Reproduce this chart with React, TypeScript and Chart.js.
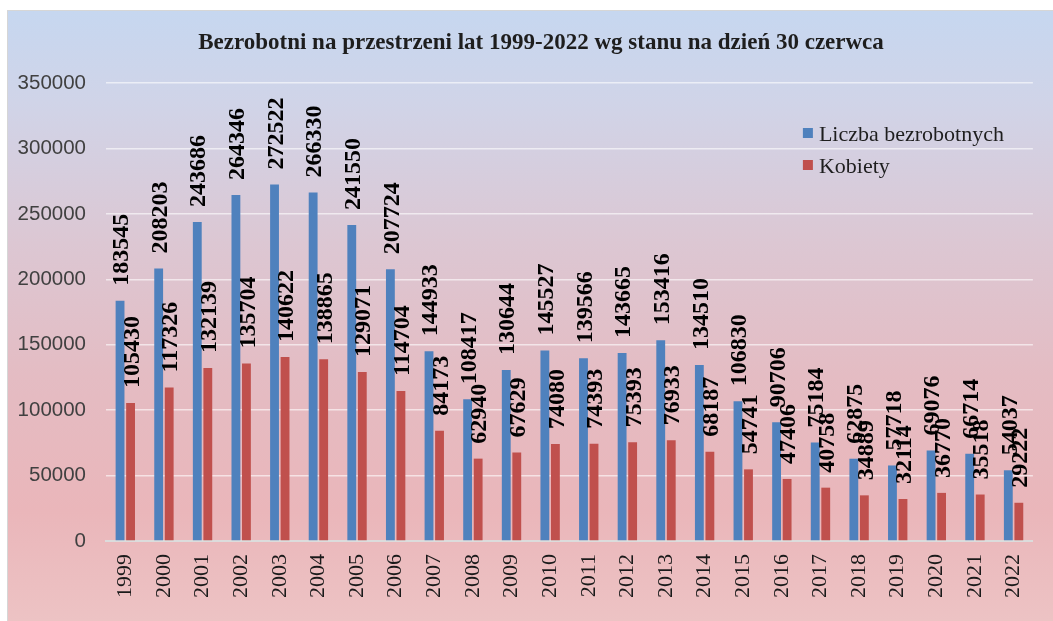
import React, { useEffect, useRef } from "react";
import { Chart, registerables } from "chart.js";

Chart.register(...registerables);

const TITLE = "Bezrobotni na przestrzeni lat 1999-2022 wg stanu na dzień 30 czerwca";
const YEARS = [
  "1999", "2000", "2001", "2002", "2003", "2004", "2005", "2006", "2007", "2008", "2009", "2010",
  "2011", "2012", "2013", "2014", "2015", "2016", "2017", "2018", "2019", "2020", "2021", "2022",
];
const TOTAL = [
  183545, 208203, 243686, 264346, 272522, 266330, 241550, 207724, 144933, 108417, 130644, 145527,
  139566, 143665, 153416, 134510, 106830, 90706, 75184, 62875, 57718, 69076, 66714, 54037,
];
const WOMEN = [
  105430, 117326, 132139, 135704, 140622, 138865, 129071, 114704, 84173, 62940, 67629, 74080,
  74393, 75393, 76933, 68187, 54741, 47406, 40758, 34889, 32114, 36770, 35518, 29222,
];
const SERIES_NAMES = ["Liczba bezrobotnych", "Kobiety"];
const SERIES_COLORS = ["#4f81bd", "#c0504d"];
const Y_MIN = 0;
const Y_MAX = 350000;
const Y_STEP = 50000;

const backgroundPlugin = {
  id: "bgGradient",
  beforeDraw(chart: any) {
    const { ctx, width, height } = chart;
    const g = ctx.createLinearGradient(0, 0, 0, height);
    g.addColorStop(0, "#c6d7f0");
    g.addColorStop(0.15, "#d0d4e8");
    g.addColorStop(0.38, "#dcc7d3");
    g.addColorStop(0.6, "#e4bcc3");
    g.addColorStop(0.82, "#eab6ba");
    g.addColorStop(1, "#edc3c4");
    ctx.save();
    ctx.fillStyle = g;
    ctx.fillRect(0, 0, width, height);
    ctx.strokeStyle = "#d6d6d6";
    ctx.lineWidth = 1;
    ctx.beginPath();
    ctx.moveTo(0.5, height);
    ctx.lineTo(0.5, 0.5);
    ctx.lineTo(width, 0.5);
    ctx.stroke();
    ctx.restore();
  },
};

const titleLegendPlugin = {
  id: "titleLegend",
  afterDraw(chart: any) {
    const { ctx } = chart;
    ctx.save();
    ctx.fillStyle = "#1e1e1e";
    ctx.font = "bold 23px 'Liberation Serif'";
    ctx.textAlign = "center";
    ctx.textBaseline = "alphabetic";
    ctx.fillText(TITLE, 534, 39);

    const lx = chart.chartArea.right - 230;
    const rows = [118, 150];
    ctx.font = "22px 'Liberation Serif'";
    ctx.textAlign = "left";
    SERIES_NAMES.forEach((name, i) => {
      ctx.fillStyle = SERIES_COLORS[i];
      ctx.fillRect(lx, rows[i], 10, 10);
      ctx.fillStyle = "#1e1e1e";
      ctx.fillText(name, lx + 16, rows[i] + 12.5);
    });
    ctx.restore();
  },
};

const dataLabelPlugin = {
  id: "vertLabels",
  afterDatasetsDraw(chart: any) {
    const { ctx } = chart;
    ctx.save();
    ctx.font = "bold 24px 'Liberation Serif'";
    ctx.fillStyle = "#000000";
    ctx.textAlign = "left";
    ctx.textBaseline = "middle";
    chart.data.datasets.forEach((ds: any, i: number) => {
      const meta = chart.getDatasetMeta(i);
      meta.data.forEach((bar: any, j: number) => {
        ctx.save();
        ctx.translate(bar.x + 2, bar.y - 15);
        ctx.rotate(-Math.PI / 2);
        ctx.fillText(String(ds.data[j]), 0, 0);
        ctx.restore();
      });
    });
    ctx.restore();
  },
};

export default function App() {
  const canvasRef = useRef<HTMLCanvasElement | null>(null);

  useEffect(() => {
    document.body.style.overflow = "hidden";
    const canvas = canvasRef.current;
    if (!canvas) return;
    const chart = new Chart(canvas, {
      type: "bar",
      data: {
        labels: YEARS,
        datasets: [
          {
            label: SERIES_NAMES[0],
            data: TOTAL,
            backgroundColor: SERIES_COLORS[0],
            borderWidth: 0,
            barPercentage: 0.84,
            categoryPercentage: 0.545,
          },
          {
            label: SERIES_NAMES[1],
            data: WOMEN,
            backgroundColor: SERIES_COLORS[1],
            borderWidth: 0,
            barPercentage: 0.84,
            categoryPercentage: 0.545,
          },
        ],
      },
      options: {
        responsive: false,
        animation: false,
        layout: { padding: { top: 73, right: 1, bottom: 0, left: 0 } },
        plugins: {
          legend: { display: false },
          title: { display: false },
          tooltip: { enabled: false },
        },
        scales: {
          x: {
            type: "category",
            offset: true,
            grid: { display: false, drawTicks: false },
            border: { display: true, color: "#dcdcdc", width: 2 },
            ticks: {
              autoSkip: false,
              maxRotation: 90,
              minRotation: 90,
              padding: 13,
              color: "#1a1a1a",
              font: { family: "'Liberation Serif'", size: 22 },
            },
            afterFit(scale: any) {
              scale.height = 80;
            },
          },
          y: {
            min: Y_MIN,
            max: Y_MAX,
            grid: { color: "rgba(255,255,255,0.6)", lineWidth: 1.5, drawTicks: false },
            border: { display: false },
            ticks: {
              stepSize: Y_STEP,
              padding: 20,
              color: "#404040",
              font: { family: "'Liberation Sans'", size: 20.5 },
              callback: (v: any) => String(v),
            },
            afterFit(scale: any) {
              scale.width = 99;
            },
          },
        },
      },
      plugins: [backgroundPlugin, dataLabelPlugin, titleLegendPlugin],
    });
    return () => chart.destroy();
  }, []);

  return (
    <div style={{ position: "absolute", left: 7, top: 10, width: 1046, height: 611 }}>
      <canvas ref={canvasRef} width={1046} height={611} style={{ display: "block" }} />
    </div>
  );
}
